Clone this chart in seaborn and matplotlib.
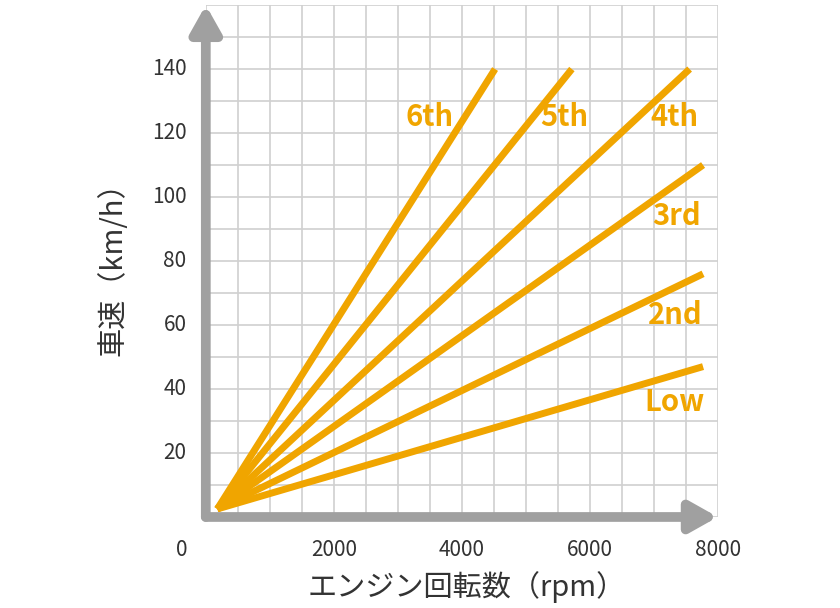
import matplotlib
matplotlib.use("Agg")
import matplotlib.pyplot as plt
import seaborn as sns
import pandas as pd

plt.rcParams["font.family"] = "Noto Sans CJK JP"

# ── Data ───────────────────────────────────────────
gears      = ["Low", "2nd", "3rd", "4th", "5th", "6th"]
start_rpm  = 180
start_kmh  = 2.5
end_rpm    = [7770, 7770, 7770, 7560, 5720, 4520]
end_kmh    = [47, 76, 110, 140, 140, 140]
label_rpm  = [7330, 7330, 7360, 7330, 5610, 3500]
label_kmh  = [36, 63, 94, 125, 125, 125]
x_ticks    = [2000, 4000, 6000, 8000]
y_ticks    = [20, 40, 60, 80, 100, 120, 140]

ORANGE = "#f0a500"
GREY = "#a0a0a0"

rows = []
for g, er, ek in zip(gears, end_rpm, end_kmh):
    rows.append({"gear": g, "rpm": start_rpm, "kmh": start_kmh})
    rows.append({"gear": g, "rpm": er, "kmh": ek})
df = pd.DataFrame(rows)

fig = plt.figure(figsize=(8.4, 6.08), dpi=100)
ax = fig.add_axes([0.245, 0.1497, 0.6095, 0.842])

sns.lineplot(data=df, x="rpm", y="kmh", units="gear", estimator=None,
             color=ORANGE, linewidth=5, ax=ax, legend=False, zorder=3,
             solid_capstyle="butt")

for g, lx, ly in zip(gears, label_rpm, label_kmh):
    ax.text(lx, ly, g, color=ORANGE, fontsize=21, fontweight="semibold",
            ha="center", va="center", zorder=4)

ax.set_xlim(0, 8000)
ax.set_ylim(0, 160)
ax.set_xticks(range(0, 8001, 500))
ax.set_yticks(range(0, 161, 10))
ax.grid(True, color="#d0d0d0", linewidth=1.2, zorder=0)
ax.set_xticklabels([])
ax.set_yticklabels([])
ax.tick_params(length=0)
for s in ax.spines.values():
    s.set_visible(False)

for t in x_ticks:
    ax.text(t, -7, str(t), ha="center", va="top", fontsize=15, color="#333333")
ax.text(-380, -7, "0", ha="center", va="top", fontsize=15, color="#333333")
for t in y_ticks:
    ax.text(-300, t, str(t), ha="right", va="center", fontsize=15, color="#333333")

# axis arrows
ax.annotate("", xy=(8000, 0), xytext=(0, 0), annotation_clip=False,
            arrowprops=dict(arrowstyle="-|>,head_width=0.9,head_length=1.6",
                            color=GREY, lw=7, shrinkA=0, shrinkB=0), zorder=5)
ax.annotate("", xy=(0, 160), xytext=(0, 0), annotation_clip=False,
            arrowprops=dict(arrowstyle="-|>,head_width=0.9,head_length=1.6",
                            color=GREY, lw=7, shrinkA=0, shrinkB=0), zorder=5)

ax.set_xlabel("")
ax.set_ylabel("")
fig.text(0.555, 0.035, "エンジン回転数（rpm）", ha="center", va="center",
         fontsize=21, color="#333333")
fig.text(0.135, 0.57, "車速（km/h）", ha="center", va="center",
         fontsize=21, color="#333333", rotation=90)

fig.savefig("out.png", dpi=100)
